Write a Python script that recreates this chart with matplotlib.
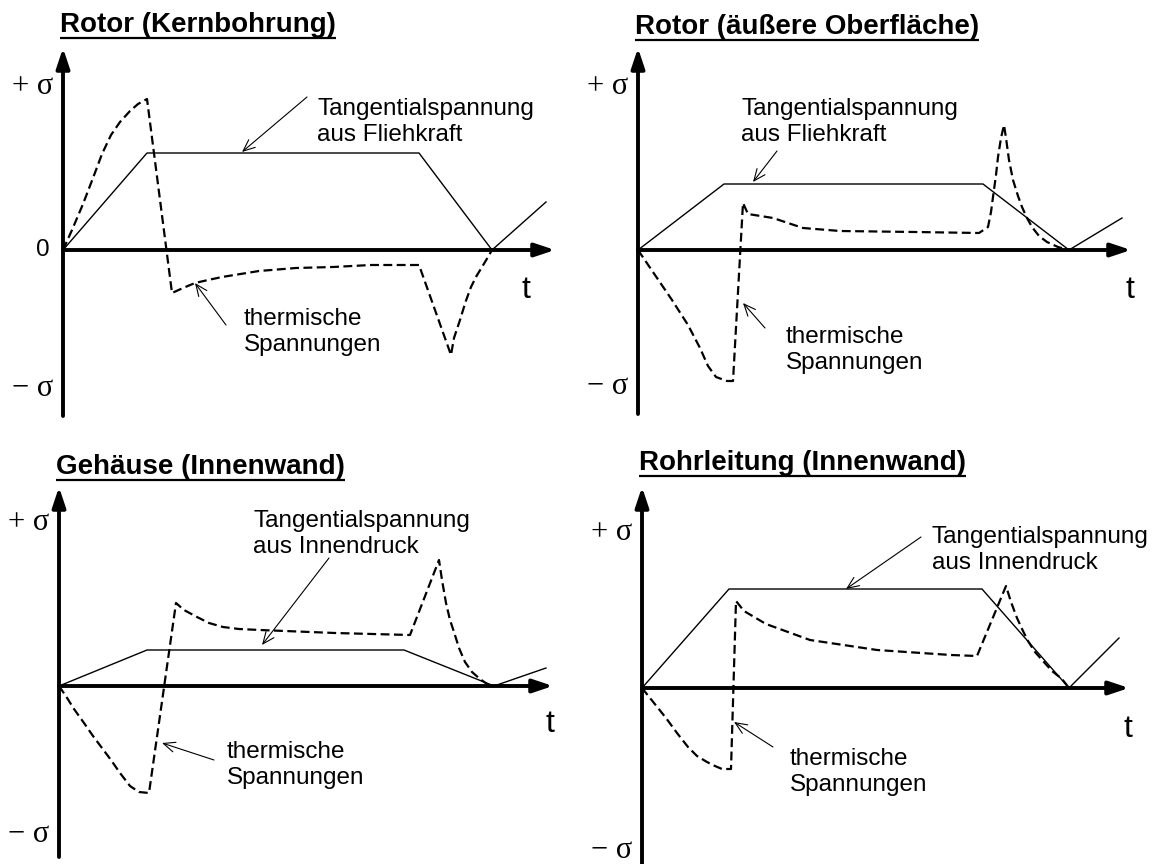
import matplotlib
matplotlib.use('Agg')
import matplotlib.pyplot as plt

plt.rcParams['font.family'] = ['Liberation Sans', 'DejaVu Sans']

# --- Rotor (Kernbohrung) ---
kern_t_mech = [0, 1.68, 7.12, 8.58, 9.66]
kern_s_mech = [0, 0.97, 0.97, 0, 0.48]
kern_t_therm = [0, 0.18, 0.40, 0.60, 0.78, 0.96, 1.14, 1.34, 1.50, 1.68, 2.18, 2.40, 2.64, 2.90,
                3.18, 3.55, 3.92, 4.66, 5.40, 6.16, 7.12, 7.76, 7.82, 7.94, 8.05, 8.16, 8.27,
                8.38, 8.50, 8.58]
kern_s_therm = [0, 0.20, 0.46, 0.72, 0.96, 1.15, 1.28, 1.39, 1.46, 1.51, -0.43, -0.38, -0.33,
                -0.30, -0.27, -0.24, -0.21, -0.18, -0.17, -0.15, -0.15, -1.05, -0.88, -0.70,
                -0.52, -0.37, -0.26, -0.17, -0.07, 0]

# --- Rotor (aeussere Oberflaeche) ---
ober_t_mech = [0, 1.72, 6.90, 8.62, 9.68]
ober_s_mech = [0, 0.66, 0.66, 0, 0.32]
ober_t_therm = [0, 0.34, 0.68, 1.00, 1.24, 1.40, 1.56, 1.78, 1.90, 2.10, 2.20, 2.70, 3.30, 4.04,
                5.54, 6.82, 6.94, 7.00, 7.06, 7.10, 7.16, 7.20, 7.26, 7.32, 7.36, 7.42, 7.50,
                7.60, 7.68, 7.78, 7.88, 8.02, 8.18, 8.40, 8.62]
ober_s_therm = [0, -0.25, -0.50, -0.75, -0.98, -1.16, -1.27, -1.31, -1.31, 0.47, 0.36, 0.32, 0.22,
                0.19, 0.18, 0.17, 0.21, 0.23, 0.38, 0.53, 0.75, 0.93, 1.12, 1.25, 1.12, 0.90,
                0.70, 0.54, 0.43, 0.32, 0.23, 0.14, 0.08, 0.03, 0]

# --- Gehaeuse (Innenwand) ---
geh_t_mech = [0, 1.76, 6.90, 8.70, 9.74]
geh_s_mech = [0, 0.36, 0.36, 0, 0.18]
geh_t_therm = [0, 0.15, 0.30, 0.50, 0.68, 0.86, 1.04, 1.22, 1.42, 1.60, 1.80, 2.34, 2.50, 2.76,
               3.00, 3.28, 3.60, 4.02, 5.52, 7.02, 7.60, 7.66, 7.74, 7.82, 7.90, 8.00, 8.12,
               8.26, 8.42, 8.56, 8.70]
geh_s_therm = [0, -0.11, -0.23, -0.37, -0.50, -0.62, -0.74, -0.87, -1.00, -1.06, -1.07, 0.83,
               0.76, 0.69, 0.63, 0.59, 0.57, 0.56, 0.53, 0.51, 1.26, 1.06, 0.83, 0.66, 0.54,
               0.38, 0.24, 0.14, 0.07, 0.02, 0]

# --- Rohrleitung (Innenwand) ---
rohr_t_mech = [0, 1.74, 6.80, 8.54, 9.54]
rohr_s_mech = [0, 0.99, 0.99, 0, 0.50]
rohr_t_therm = [0, 0.24, 0.48, 0.70, 0.92, 1.10, 1.30, 1.46, 1.60, 1.78, 1.88, 2.04, 2.48, 3.36,
                4.70, 6.18, 6.70, 7.28, 7.38, 7.50, 7.62, 7.72, 7.86, 8.02, 8.20, 8.40, 8.54]
rohr_s_therm = [0, -0.15, -0.30, -0.45, -0.59, -0.68, -0.74, -0.78, -0.81, -0.81, 0.87, 0.77,
                0.64, 0.48, 0.38, 0.33, 0.32, 1.02, 0.86, 0.70, 0.57, 0.47, 0.36, 0.27, 0.17,
                0.09, 0]

W, H = 1165, 864
fig = plt.figure(figsize=(W / 100, H / 100), dpi=100)

panels = [
    dict(title='Rotor (Kernbohrung)', origin=(63, 250), ylim=(-1.9, 2.5), title_y=2.18,
         mech=(kern_t_mech, kern_s_mech), therm=(kern_t_therm, kern_s_therm),
         yaxis=(-1.66, 2.02), xtip=9.84, plus=1.63, minus=-1.39, zero=True, tpos=(9.18, -0.40),
         mech_text=(5.08, 1.28, 'Tangentialspannung\naus Fliehkraft'),
         mech_arrow=((4.88, 1.53), (3.58, 0.98)),
         therm_text=(3.62, -0.82), therm_arrow=((3.26, -0.75), (2.64, -0.33))),
    dict(title='Rotor (äußere Oberfläche)', origin=(638, 250), ylim=(-1.9, 2.5), title_y=2.16,
         mech=(ober_t_mech, ober_s_mech), therm=(ober_t_therm, ober_s_therm),
         yaxis=(-1.64, 2.02), xtip=9.86, plus=1.63, minus=-1.37, zero=False, tpos=(9.74, -0.40),
         mech_text=(2.06, 1.28, 'Tangentialspannung\naus Fliehkraft'),
         mech_arrow=((2.78, 0.99), (2.30, 0.68)),
         therm_text=(2.96, -1.00), therm_arrow=((2.54, -0.78), (2.10, -0.53))),
    dict(title='Gehäuse (Innenwand)', origin=(59, 686), ylim=(-1.78, 2.3), title_y=2.12,
         mech=(geh_t_mech, geh_s_mech), therm=(geh_t_therm, geh_s_therm),
         yaxis=(-1.71, 1.99), xtip=9.88, plus=1.63, minus=-1.49, zero=False, tpos=(9.74, -0.38),
         mech_text=(3.88, 1.52, 'Tangentialspannung\naus Innendruck'),
         mech_arrow=((5.40, 1.28), (4.06, 0.41)),
         therm_text=(3.36, -0.79), therm_arrow=((3.10, -0.74), (2.06, -0.57))),
    dict(title='Rohrleitung (Innenwand)', origin=(642, 688), ylim=(-1.76, 2.3), title_y=2.18,
         mech=(rohr_t_mech, rohr_s_mech), therm=(rohr_t_therm, rohr_s_therm),
         yaxis=(-1.78, 2.01), xtip=9.74, plus=1.56, minus=-1.62, zero=False, tpos=(9.62, -0.41),
         mech_text=(5.80, 1.38, 'Tangentialspannung\naus Innendruck'),
         mech_arrow=((5.58, 1.51), (4.08, 0.99)),
         therm_text=(2.96, -0.84), therm_arrow=((2.62, -0.59), (1.84, -0.34))),
]

xlim = (-1.3, 10.4)
label_kw = dict(fontsize=17.5, color='black')
sigma_kw = dict(fontsize=22, family=['Liberation Serif', 'DejaVu Serif'], ha='right', va='center')
titles = []

for p in panels:
    ox, oy = p['origin']
    y0, y1 = p['ylim']
    rect = [(ox + 50 * xlim[0]) / W, 1 - (oy - 100 * y0) / H,
            50 * (xlim[1] - xlim[0]) / W, 100 * (y1 - y0) / H]
    ax = fig.add_axes(rect)
    ax.set_xlim(xlim)
    ax.set_ylim(p['ylim'])
    ax.axis('off')

    # axes with arrow heads
    axis_arrow = dict(arrowstyle='-|>,head_length=0.6,head_width=0.2', lw=2.8, color='black',
                      mutation_scale=20, shrinkA=0, shrinkB=0)
    ax.annotate('', xy=(p['xtip'], 0), xytext=(0, 0), arrowprops=axis_arrow,
                annotation_clip=False)
    ax.annotate('', xy=(0, p['yaxis'][1]), xytext=(0, p['yaxis'][0]), arrowprops=axis_arrow,
                annotation_clip=False)

    # stress curves
    ax.plot(*p['mech'], color='black', lw=1.0, clip_on=False, zorder=3)
    ax.plot(*p['therm'], color='black', lw=1.6, linestyle=(0, (4, 2)), clip_on=False, zorder=3)

    # axis labels
    ax.text(-0.2, p['plus'], '+ σ', **sigma_kw)
    ax.text(-0.2, p['minus'], '\u2212 σ', **sigma_kw)
    if p['zero']:
        ax.text(-0.26, 0, '0', ha='right', va='center', **label_kw)
    ax.text(*p['tpos'], 't', fontsize=23, ha='left', va='center')

    # callouts
    mx, my, mtxt = p['mech_text']
    ax.text(mx, my, mtxt, ha='left', va='center', linespacing=1.2, **label_kw)
    tx, ty = p['therm_text']
    ax.text(tx, ty, 'thermische\nSpannungen', ha='left', va='center', linespacing=1.2, **label_kw)
    thin_arrow = dict(arrowstyle='->,head_length=0.7,head_width=0.3', lw=0.8, color='black',
                      mutation_scale=12, shrinkA=0, shrinkB=0)
    for tail, tip in (p['mech_arrow'], p['therm_arrow']):
        ax.annotate('', xy=tip, xytext=tail, arrowprops=thin_arrow, annotation_clip=False)

    t = ax.text(-0.06, p['title_y'], p['title'], fontsize=20, fontweight='bold',
                ha='left', va='baseline')
    titles.append((ax, t, p['title_y']))

# underline the panel titles
fig.canvas.draw()
renderer = fig.canvas.get_renderer()
for ax, t, yb in titles:
    bb = t.get_window_extent(renderer)
    inv = ax.transData.inverted()
    xa = inv.transform((bb.x0, bb.y0))[0]
    xb = inv.transform((bb.x1, bb.y0))[0]
    ax.plot([xa, xb], [yb - 0.06, yb - 0.06], color='black', lw=1.6,
            solid_capstyle='butt', clip_on=False)

fig.savefig('out.png', dpi=100)
